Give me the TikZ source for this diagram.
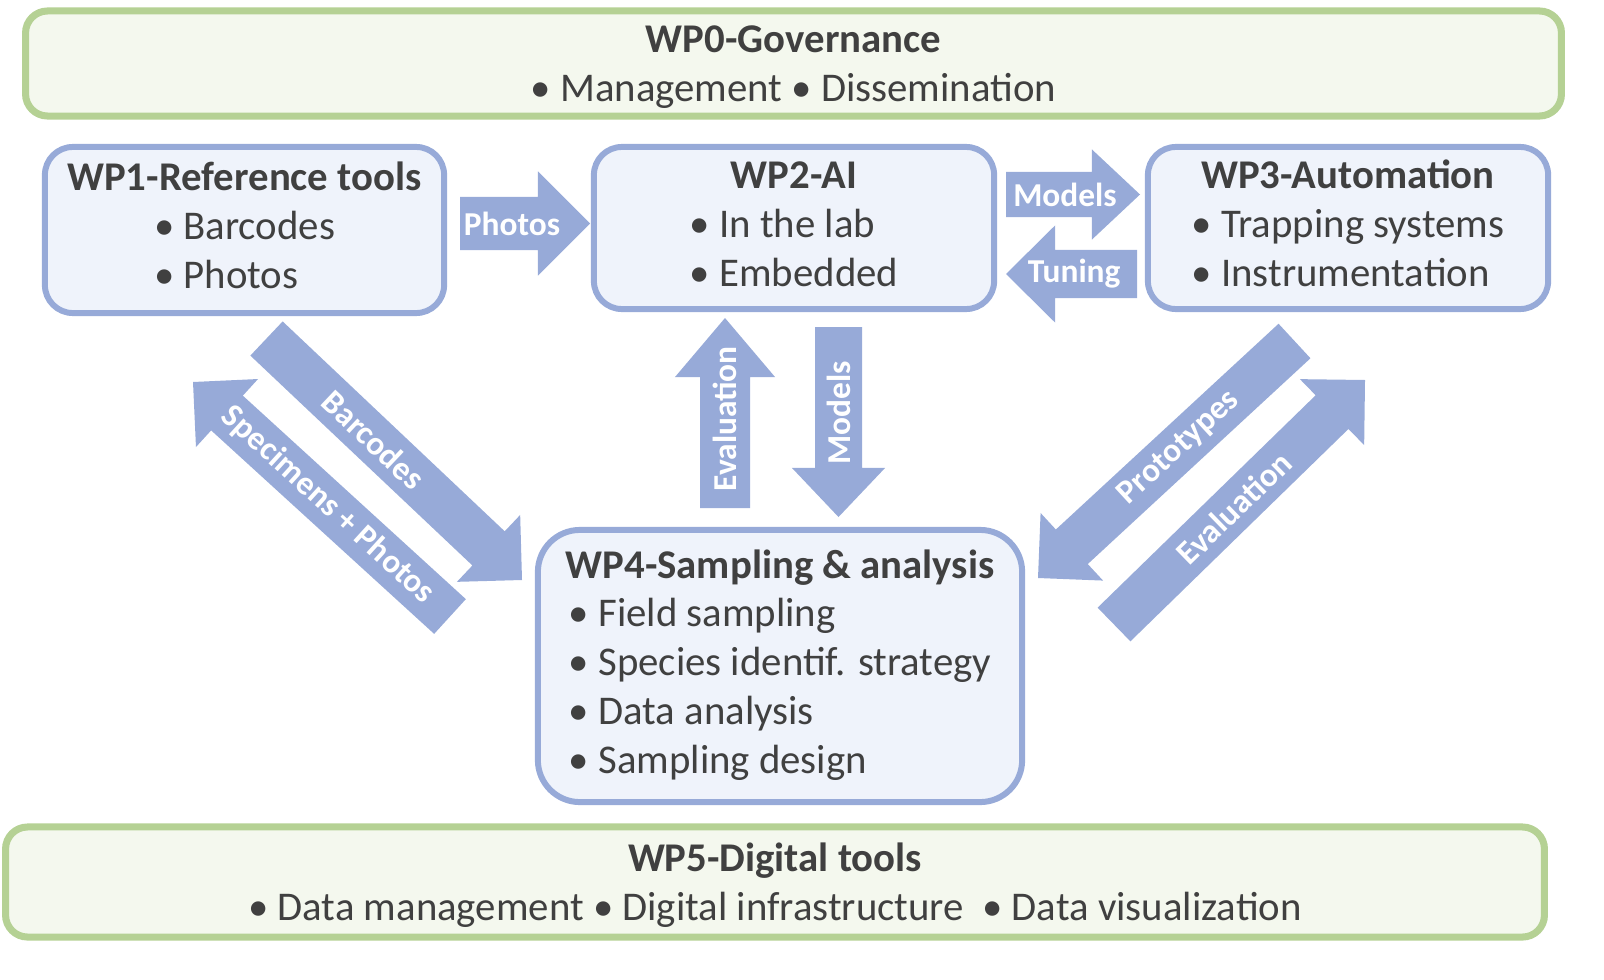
\documentclass[tikz,border=0pt]{standalone}
\usepackage{fontspec}
\setmainfont{Carlito}
\usetikzlibrary{calc}

\definecolor{wpblue}{HTML}{97AAD8}
\definecolor{wpbluefill}{HTML}{EFF3FB}
\definecolor{wpgreen}{HTML}{B5D194}
\definecolor{wpgreenfill}{HTML}{F4F8EE}
\definecolor{wptext}{HTML}{404040}

\tikzset{
  wpbox/.style={draw=wpblue, line width=1.7pt, fill=wpbluefill, rounded corners=0.28cm,
    align=center, text=wptext, font=\fontsize{11.6}{13.9}\selectfont, inner sep=0pt},
  govbox/.style={wpbox, draw=wpgreen, fill=wpgreenfill, line width=2pt, rounded corners=0.22cm},
  flowlabel/.style={text=white, font=\bfseries\fontsize{9.5}{11}\selectfont, inner sep=0pt},
}

\newcommand{\wptitle}[1]{\strut\textbf{#1}}

% fat block arrow: tail, tip, half shaft, half head, head length, label options, label
\newcommand{\fatarrow}[7]{%
  \coordinate (#1-h) at ($(#2)!#5!(#1)$);
  \fill[wpblue] ($(#1)!#3!90:(#2)$) -- ($(#1-h)!#3!90:(#2)$) -- ($(#1-h)!#4!90:(#2)$)
    -- (#2) -- ($(#1-h)!#4!-90:(#2)$) -- ($(#1-h)!#3!-90:(#2)$) -- ($(#1)!#3!-90:(#2)$) -- cycle;
  \path (#1) -- (#2) node[flowlabel, #6] {#7};
}

\begin{document}
\begin{tikzpicture}[x=0.01cm, y=-0.01cm]
\useasboundingbox (0,0) rectangle (1604,979);

% work packages
\node[govbox, minimum width=15.35cm, minimum height=1.05cm] (wp0) at (793.5,63.5)
  {\wptitle{WP0-Governance}\\ • Management • Dissemination};
\node[wpbox, minimum width=3.99cm, minimum height=1.66cm] (wp1) at (244.5,230)
  {\wptitle{WP1-Reference tools}\\ \begin{tabular}[t]{@{}l@{}}• Barcodes\\ • Photos\end{tabular}};
\node[wpbox, minimum width=4.00cm, minimum height=1.62cm] (wp2) at (794,228)
  {\wptitle{WP2-AI}\\ \begin{tabular}[t]{@{}l@{}}• In the lab\\ • Embedded\end{tabular}};
\node[wpbox, minimum width=4.00cm, minimum height=1.62cm] (wp3) at (1348,228)
  {\wptitle{WP3-Automation}\\ \begin{tabular}[t]{@{}l@{}}• Trapping systems\\ • Instrumentation\end{tabular}};
\node[wpbox, minimum width=4.84cm, minimum height=2.72cm, rounded corners=0.42cm] (wp4) at (780,666)
  {\wptitle{WP4-Sampling \& analysis}\\ \begin{tabular}[t]{@{}l@{}}• Field sampling\\ • Species identif. strategy\\
   • Data analysis\\ • Sampling design\end{tabular}};
\node[govbox, minimum width=15.38cm, minimum height=1.10cm] (wp5) at (775,882)
  {\wptitle{WP5-Digital tools}\\ • Data management • Digital infrastructure \ • Data visualization};

% arrow ends
\coordinate (photos-tail) at (460,223.5);   \coordinate (photos-tip) at (590,223.5);
\coordinate (models-tail) at (1006,194.5);  \coordinate (models-tip) at (1140,194.5);
\coordinate (tuning-tail) at (1137,274);    \coordinate (tuning-tip) at (1006,274);
\coordinate (evalai-tail) at (725,508);     \coordinate (evalai-tip) at (725,318);
\coordinate (modelsdn-tail) at (838.5,327); \coordinate (modelsdn-tip) at (838.5,517);
\coordinate (barcodes-tail) at (266.5,338.5); \coordinate (barcodes-tip) at (522,580);
\coordinate (specimens-tail) at (450,616.5);  \coordinate (specimens-tip) at (193,382);
\coordinate (proto-tail) at (1294.5,341);     \coordinate (proto-tip) at (1038,578);
\coordinate (evalauto-tail) at (1114,624.5);  \coordinate (evalauto-tip) at (1365,380);

% flows
\fatarrow{photos-tail}{photos-tip}{0.265cm}{0.52cm}{0.52cm}{pos=0.4, sloped}{Photos}
\fatarrow{models-tail}{models-tip}{0.225cm}{0.45cm}{0.48cm}{pos=0.44, sloped}{Models}
\fatarrow{tuning-tail}{tuning-tip}{0.24cm}{0.485cm}{0.49cm}{pos=0.48, sloped}{Tuning}
\fatarrow{evalai-tail}{evalai-tip}{0.25cm}{0.5cm}{0.59cm}{pos=0.47, rotate=90}{Evaluation}
\fatarrow{modelsdn-tail}{modelsdn-tip}{0.235cm}{0.465cm}{0.49cm}{pos=0.45, rotate=90}{Models}
\fatarrow{barcodes-tail}{barcodes-tip}{0.235cm}{0.46cm}{0.46cm}{pos=0.42, sloped}{Barcodes}
\fatarrow{specimens-tail}{specimens-tip}{0.235cm}{0.46cm}{0.46cm}{pos=0.475, sloped}{Specimens + Photos}
\fatarrow{proto-tail}{proto-tip}{0.235cm}{0.46cm}{0.46cm}{pos=0.45, sloped}{Prototypes}
\fatarrow{evalauto-tail}{evalauto-tip}{0.235cm}{0.46cm}{0.46cm}{pos=0.477, sloped}{Evaluation}
\end{tikzpicture}
\end{document}
